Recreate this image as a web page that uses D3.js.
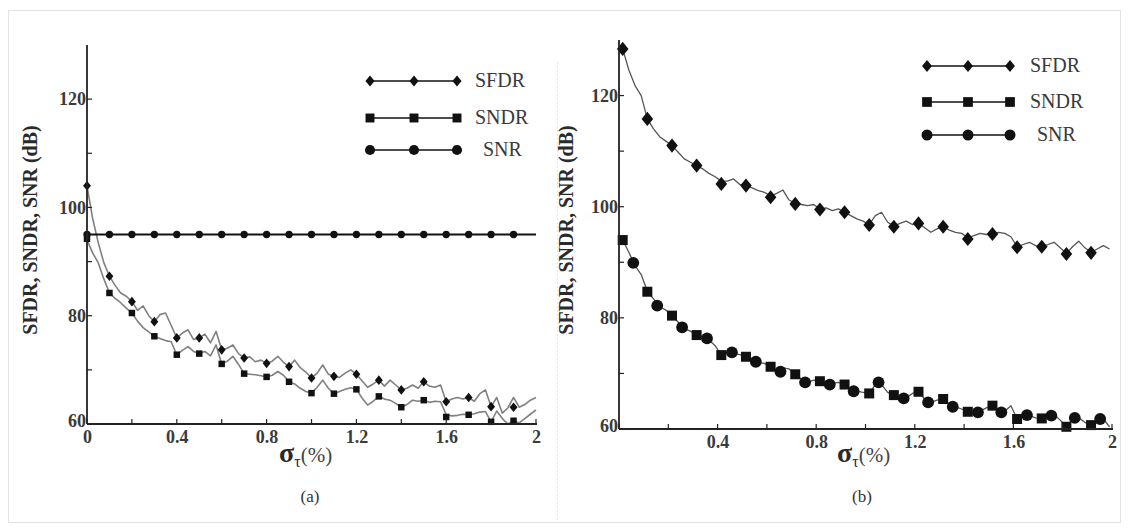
<!DOCTYPE html>
<html><head><meta charset="utf-8">
<script src="https://cdn.jsdelivr.net/npm/d3@7/dist/d3.min.js"></script>
<style>body{margin:0;background:#fff}svg{display:block}</style>
</head><body>
<svg id="c" width="1129" height="530"></svg>
<script>
// ---------------- DATA ----------------
const seriesNames = ["SFDR", "SNDR", "SNR"];
const yTicks = [60, 80, 100, 120];
const yMinorTicks = [70, 90, 110];
const xTicksA = [0, 0.4, 0.8, 1.2, 1.6, 2];
const xTicksB = [0.4, 0.8, 1.2, 1.6, 2];
const xMinorTicks = [0.2, 0.6, 1.0, 1.4, 1.8];

// Panel (a) : line samples every 0.025 from 0 to 2
const sigmaLineA = d3.range(0, 81).map(i => i * 0.025);
const sfdrLineA = [104.0,98.0,93.5,89.8,87.3,85.6,84.2,83.6,82.6,81.0,81.8,80.0,78.9,80.2,80.5,78.2,75.9,76.8,77.4,75.6,75.9,76.6,75.0,77.1,73.7,74.0,74.6,73.0,72.2,72.4,71.5,71.8,71.2,71.6,72.5,71.4,70.6,71.8,70.4,69.6,68.5,69.4,70.9,69.2,68.8,68.6,69.4,70.0,69.2,68.0,66.8,67.4,68.1,67.0,68.1,67.2,66.3,66.6,67.2,66.6,67.8,67.0,66.8,67.2,64.1,64.6,64.9,64.6,64.9,64.2,65.6,66.3,63.2,64.9,62.0,63.0,64.9,63.1,63.6,64.4,64.9];
const sndrLineA = [94.0,91.6,89.8,86.8,84.2,83.2,82.4,81.4,80.5,79.0,77.8,77.0,76.2,75.8,75.4,75.2,72.8,73.6,74.3,73.4,73.0,73.4,72.6,74.6,71.1,71.6,72.5,71.0,69.3,69.2,69.1,68.9,68.7,69.0,69.7,69.0,67.8,67.4,66.6,66.0,65.7,66.8,68.1,66.6,65.6,66.0,66.4,66.7,66.4,64.8,63.5,64.2,65.1,64.6,64.4,63.8,63.1,63.6,64.4,64.2,64.4,64.0,64.2,64.1,61.7,61.5,61.6,61.8,61.7,61.9,62.2,62.3,60.4,62.4,61.0,60.0,60.6,60.2,61.0,61.8,62.6];
const snrLineSigmaA = [0, 2];
const snrLineA = [95, 95];

// Panel (a) : markers every 0.1
const sigmaMarkA = [0,0.1,0.2,0.3,0.4,0.5,0.6,0.7,0.8,0.9,1.0,1.1,1.2,1.3,1.4,1.5,1.6,1.7,1.8,1.9];
const sfdrMarkA = [104,87.3,82.6,78.9,75.9,75.9,73.7,72.2,71.2,70.6,68.5,68.8,69.2,68.1,66.3,67.8,64.1,64.9,63.2,63.1];
const sndrMarkA = [94.2,84.2,80.5,76.2,72.8,73.0,71.1,69.3,68.7,67.8,65.7,65.6,66.4,65.1,63.1,64.4,61.3,61.7,60.4,60.6];
const snrMarkA = [95,95,95,95,95,95,95,95,95,95,95,95,95,95,95,95,95,95,95,95];

// Panel (b) : line samples every 0.025 from 0.015 to 1.99
const sigmaLineB = d3.range(0, 80).map(i => 0.015 + i * 0.025);
const sfdrLineB = [128.4,124.6,121.8,120.0,115.8,114.0,112.6,111.8,111.0,109.8,108.6,108.0,107.4,106.8,106.0,105.4,104.6,104.6,105.0,104.0,103.8,103.4,102.9,102.6,101.9,102.4,103.0,101.2,100.6,100.4,100.2,100.4,99.6,99.8,99.3,99.6,99.0,98.4,97.8,97.4,96.8,98.4,99.0,97.2,96.5,97.0,97.4,96.8,97.0,96.2,95.4,96.0,96.4,95.8,95.4,95.2,94.4,94.8,95.2,95.0,95.1,95.4,95.2,94.6,92.8,93.2,93.6,93.0,92.9,93.2,93.6,92.6,91.6,92.8,93.8,92.6,91.8,92.4,93.0,92.4];
const sndrLineB = [94.0,91.8,89.4,87.8,84.8,83.4,82.0,81.4,80.4,79.2,78.0,77.6,76.9,76.6,76.0,75.0,73.3,73.8,73.6,73.4,73.0,72.4,72.0,71.8,71.2,70.6,71.0,70.8,69.8,69.0,68.4,68.8,68.6,68.2,68.2,68.4,68.0,67.0,66.8,66.6,66.4,68.0,68.0,66.6,66.1,65.8,65.6,66.4,66.7,65.4,64.8,65.2,65.4,64.4,64.0,63.6,63.1,63.0,63.2,63.8,64.2,63.2,63.2,64.2,61.8,62.2,62.4,62.0,61.9,62.4,62.6,61.6,60.4,61.8,62.0,61.2,60.7,61.6,61.8,60.4];

// Panel (b) : markers
const sigmaMarkB = [0.015,0.115,0.215,0.315,0.415,0.515,0.615,0.715,0.815,0.915,1.015,1.115,1.215,1.315,1.415,1.515,1.615,1.715,1.815,1.915];
const sigmaMarkSnrB = [0.058,0.155,0.256,0.357,0.458,0.555,0.655,0.755,0.855,0.952,1.053,1.155,1.254,1.354,1.456,1.551,1.655,1.754,1.849,1.952];
const sfdrMarkB = [128.4,115.8,111.0,107.4,104.1,103.8,101.7,100.5,99.5,99.0,96.7,96.4,97.0,96.4,94.2,95.1,92.7,92.8,91.5,91.7];
const sndrMarkB = [94.0,84.7,80.4,76.9,73.3,73.0,71.2,69.85,68.6,68.0,66.4,66.1,66.7,65.4,63.1,64.2,61.8,61.9,60.4,60.7];
const snrMarkB = [89.9,82.2,78.3,76.3,73.8,72.1,70.3,68.4,68.0,66.8,68.4,65.5,64.8,64.0,63.0,63.0,62.5,62.4,62.0,61.8];

// ---------------- DRAW ----------------
const svg = d3.select("#c");
svg.append("rect").attr("width",1129).attr("height",530).attr("fill","#fff");
// faint frame of the scanned figure
svg.append("rect").attr("x",8.5).attr("y",10.5).attr("width",1112).attr("height",512)
  .attr("fill","none").attr("stroke","#e2e2e2").attr("stroke-width",1);
svg.append("line").attr("x1",557.5).attr("x2",557.5).attr("y1",62).attr("y2",520)
  .attr("stroke","#e6e6e6").attr("stroke-dasharray","2,2");

const FONT = "'Liberation Serif','Times New Roman',serif";

const diamondType = {
  draw(ctx, size) {
    const h = Math.sqrt(size) * 0.62, w = h * 0.82;
    ctx.moveTo(0, -h); ctx.lineTo(w, 0); ctx.lineTo(0, h); ctx.lineTo(-w, 0); ctx.closePath();
  }
};

function panel(cfg) {
  const x = d3.scaleLinear().domain([0, 2]).range(cfg.xr);
  const y = d3.scaleLinear().domain([60, 130]).range(cfg.yr);
  const g = svg.append("g");
  const clipId = "clip" + cfg.id;
  svg.append("clipPath").attr("id", clipId).append("rect")
    .attr("x", cfg.xr[0]).attr("y", cfg.yr[1]).attr("width", cfg.xr[1] - cfg.xr[0] + 4)
    .attr("height", cfg.yr[0] - cfg.yr[1]);

  const line = d3.line().x(d => x(d[0])).y(d => y(d[1]));
  const plot = g.append("g").attr("clip-path", `url(#${clipId})`);

  cfg.lines.forEach(L => {
    plot.append("path").attr("d", line(d3.zip(L.xs, L.ys)))
      .attr("fill", "none").attr("stroke", L.color).attr("stroke-width", L.width)
      .attr("stroke-linejoin", "round");
  });

  const sym = {
    SFDR: d3.symbol().type(diamondType),
    SNDR: d3.symbol().type(d3.symbolSquare),
    SNR: d3.symbol().type(d3.symbolCircle)
  };
  cfg.marks.forEach(M => {
    g.append("g").selectAll("path").data(d3.zip(M.xs, M.ys)).join("path")
      .attr("transform", d => `translate(${x(d[0])},${y(d[1])})`)
      .attr("d", sym[M.name].size(M.size)()).attr("fill", "#111");
  });

  // axes
  const axisColor = "#222";
  g.append("line").attr("x1", cfg.xr[0]).attr("x2", cfg.xr[0]).attr("y1", cfg.yr[0]).attr("y2", cfg.yr[1])
    .attr("stroke", axisColor).attr("stroke-width", 1.8);
  g.append("line").attr("x1", cfg.xr[0]).attr("x2", cfg.xr[1] + 1).attr("y1", cfg.yr[0]).attr("y2", cfg.yr[0])
    .attr("stroke", axisColor).attr("stroke-width", 1.8);

  const yAxis = d3.axisLeft(y).tickValues(yTicks).tickSize(0).tickPadding(1);
  const ya = g.append("g").attr("transform", `translate(${cfg.xr[0]},0)`).call(yAxis);
  ya.select(".domain").remove();
  ya.selectAll("text").attr("font-family", FONT).attr("font-size", 18).attr("font-weight", "bold")
    .attr("fill", "#3a3a3a").attr("dy", d => d === 60 ? "0.15em" : "0.32em");
  g.selectAll(null).data(yTicks.concat(yMinorTicks)).join("line")
    .attr("x1", cfg.xr[0]).attr("x2", cfg.xr[0] + 5).attr("y1", d => y(d)).attr("y2", d => y(d))
    .attr("stroke", axisColor).attr("stroke-width", 1.2);

  const xAxis = d3.axisBottom(x).tickValues(cfg.xTicks).tickSize(0).tickPadding(6)
    .tickFormat(d => d === 0 ? "0" : d === 2 ? "2" : d3.format(".1f")(d));
  const xa = g.append("g").attr("transform", `translate(0,${cfg.yr[0]})`).call(xAxis);
  xa.select(".domain").remove();
  xa.selectAll("text").attr("font-family", FONT).attr("font-size", 18).attr("font-weight", "bold")
    .attr("fill", "#3a3a3a");
  g.selectAll(null).data(xTicksA.concat(xMinorTicks)).join("line")
    .attr("x1", d => x(d)).attr("x2", d => x(d)).attr("y1", cfg.yr[0]).attr("y2", cfg.yr[0] - 5)
    .attr("stroke", axisColor).attr("stroke-width", 1.2);

  // axis titles
  g.append("text").attr("transform", `translate(${cfg.yTitleX},${cfg.yTitleY}) rotate(-90)`)
    .attr("text-anchor", "middle").attr("font-family", FONT).attr("font-weight", "bold")
    .attr("font-size", 20).attr("fill", "#2a2a2a").text("SFDR, SNDR, SNR (dB)");
  const xt = g.append("text").attr("x", cfg.xTitleX).attr("y", 462).attr("font-family", FONT)
    .attr("fill", "#2a2a2a");
  xt.append("tspan").attr("font-size", 28).attr("font-weight", "bold").text("σ");
  xt.append("tspan").attr("font-size", 16).attr("dy", 5).text("τ");
  xt.append("tspan").attr("font-size", 21).attr("dy", -5).attr("fill", "#444").text("(%)");
  g.append("text").attr("x", cfg.capX).attr("y", 502).attr("text-anchor", "middle")
    .attr("font-family", FONT).attr("font-size", 17).attr("fill", "#333").text(cfg.caption);

  // legend
  const lg = cfg.legend;
  seriesNames.forEach((name, i) => {
    const ly = lg.ys[i];
    g.append("line").attr("x1", lg.xs[0]).attr("x2", lg.xs[2]).attr("y1", ly).attr("y2", ly)
      .attr("stroke", "#111").attr("stroke-width", 1.3);
    lg.xs.forEach(lx => {
      g.append("path").attr("transform", `translate(${lx},${ly})`)
        .attr("d", sym[name].size(lg.size)()).attr("fill", "#111");
    });
    g.append("text").attr("x", lg.tx[i]).attr("y", ly + 6).attr("font-family", FONT)
      .attr("font-size", 20).attr("fill", "#3a3a3a").text(name);
  });
}

panel({
  id: "a", xr: [87, 536], yr: [424, 45], xTicks: xTicksA,
  yTitleX: 37, yTitleY: 230, xTitleX: 279, capX: 310, caption: "(a)",
  lines: [
    { xs: sigmaLineA, ys: sfdrLineA, color: "#808080", width: 1.6 },
    { xs: sigmaLineA, ys: sndrLineA, color: "#808080", width: 1.6 },
    { xs: snrLineSigmaA, ys: snrLineA, color: "#111", width: 2 }
  ],
  marks: [
    { name: "SFDR", xs: sigmaMarkA, ys: sfdrMarkA, size: 60 },
    { name: "SNDR", xs: sigmaMarkA, ys: sndrMarkA, size: 42 },
    { name: "SNR", xs: sigmaMarkA, ys: snrMarkA, size: 42 }
  ],
  legend: { xs: [370, 414, 457], ys: [81, 118, 150], tx: [475, 475, 483], size: 80 }
});

panel({
  id: "b", xr: [619, 1112], yr: [429, 40], xTicks: xTicksB,
  yTitleX: 573, yTitleY: 230, xTitleX: 837, capX: 862, caption: "(b)",
  lines: [
    { xs: sigmaLineB, ys: sfdrLineB, color: "#555", width: 1.3 },
    { xs: sigmaLineB, ys: sndrLineB, color: "#555", width: 1.3 }
  ],
  marks: [
    { name: "SFDR", xs: sigmaMarkB, ys: sfdrMarkB, size: 130 },
    { name: "SNDR", xs: sigmaMarkB, ys: sndrMarkB, size: 100 },
    { name: "SNR", xs: sigmaMarkSnrB, ys: snrMarkB, size: 110 }
  ],
  legend: { xs: [927, 968, 1010], ys: [66, 102, 135], tx: [1030, 1030, 1037], size: 95 }
});
</script>
</body></html>
